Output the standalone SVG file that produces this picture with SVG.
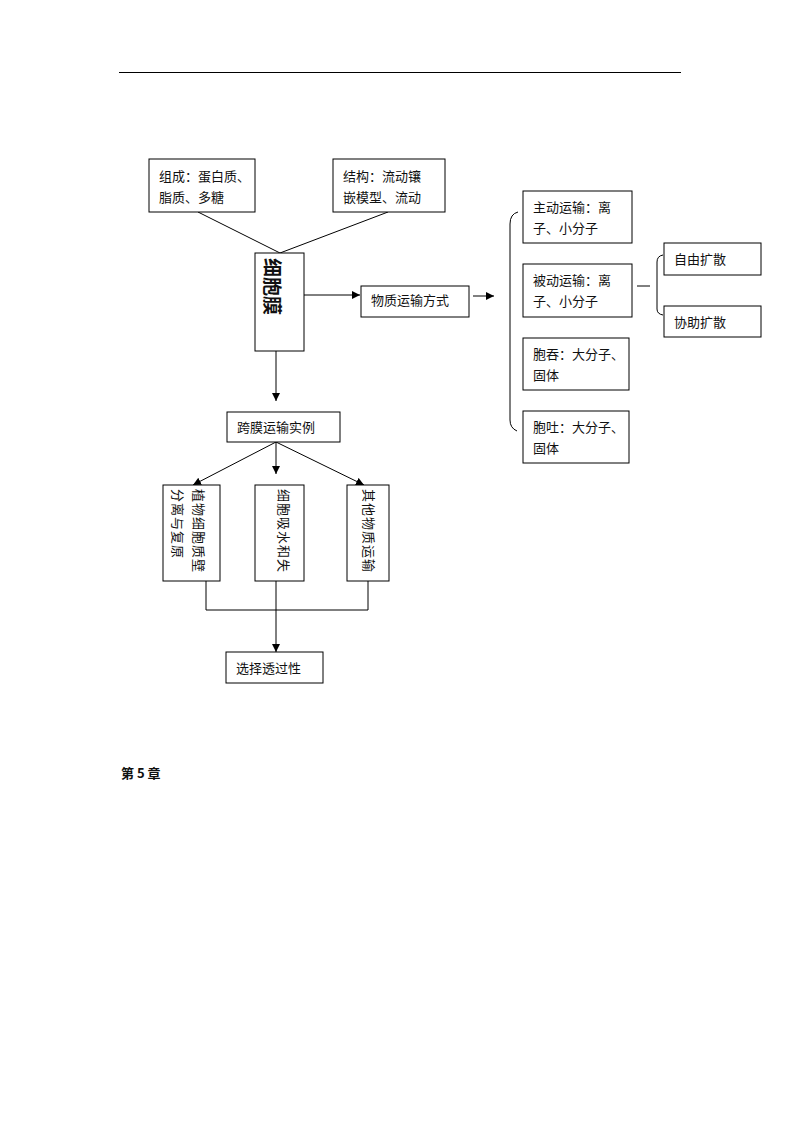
<svg xmlns="http://www.w3.org/2000/svg" width="800" height="1132" viewBox="0 0 800 1132">
<style>
.b{fill:#fff;stroke:#000;stroke-width:1}
.t{font-family:"Noto Sans CJK SC","Noto Sans CJK JP",sans-serif;font-size:13px;fill:#111}
.l{fill:none;stroke:#000;stroke-width:1}
</style>
<defs>
<marker id="a" viewBox="0 0 10 10" refX="10" refY="5" markerWidth="8" markerHeight="8" markerUnits="userSpaceOnUse" orient="auto"><path d="M0,0L10,5L0,10z" fill="#000"/></marker>
</defs>
<rect width="800" height="1132" fill="#fff"/>
<line x1="119" y1="72.5" x2="681" y2="72.5" stroke="#000" stroke-width="1"/>
<g id="connectors">
<line class="l" x1="198" y1="212" x2="280" y2="253"/>
<line class="l" x1="388" y1="212" x2="280" y2="253"/>
<line class="l" x1="304" y1="295" x2="360" y2="295" marker-end="url(#a)"/>
<line class="l" x1="473" y1="296" x2="494" y2="296" marker-end="url(#a)"/>
<path class="l" d="M518,212 Q510,214 510,224 L510,420 Q510,428 517,431"/>
<line class="l" x1="637" y1="286" x2="650" y2="286"/>
<path class="l" d="M663,255 Q657,256 657,262 L657,309 Q657,314 663,315"/>
<line class="l" x1="276" y1="351" x2="276" y2="401" marker-end="url(#a)"/>
<line class="l" x1="276" y1="442" x2="193" y2="485" marker-end="url(#a)"/>
<line class="l" x1="276" y1="442" x2="276" y2="474" marker-end="url(#a)"/>
<line class="l" x1="276" y1="442" x2="364" y2="485" marker-end="url(#a)"/>
<polyline class="l" points="206,581 206,610 368,610 368,581"/>
<line class="l" x1="276" y1="581" x2="276" y2="652" marker-end="url(#a)"/>
</g>
<g id="n-comp"><rect class="b" x="149" y="159" width="106" height="53"/><text class="t" x="159" y="181">组成：蛋白质、</text><text class="t" x="159" y="202">脂质、多糖</text></g>
<g id="n-struct"><rect class="b" x="333" y="159" width="112" height="53"/><text class="t" x="343" y="181">结构：流动镶</text><text class="t" x="343" y="202">嵌模型、流动</text></g>
<g id="n-membrane"><rect class="b" x="255" y="253" width="49" height="98"/><text class="t" transform="translate(273,258) rotate(90)" dominant-baseline="central" style="font-size:19px;font-weight:bold;letter-spacing:0">细胞膜</text></g>
<g id="n-transport"><rect class="b" x="361" y="286" width="108" height="31"/><text class="t" x="371" y="305">物质运输方式</text></g>
<g id="n-active"><rect class="b" x="523" y="191" width="109" height="52"/><text class="t" x="533" y="212">主动运输：离</text><text class="t" x="533" y="233">子、小分子</text></g>
<g id="n-passive"><rect class="b" x="523" y="264" width="109" height="53"/><text class="t" x="533" y="285">被动运输：离</text><text class="t" x="533" y="306">子、小分子</text></g>
<g id="n-free"><rect class="b" x="664" y="243" width="97" height="32"/><text class="t" x="674" y="264">自由扩散</text></g>
<g id="n-facil"><rect class="b" x="664" y="306" width="97" height="31"/><text class="t" x="674" y="327">协助扩散</text></g>
<g id="n-endo"><rect class="b" x="523" y="338" width="106" height="52"/><text class="t" x="533" y="359">胞吞：大分子、</text><text class="t" x="533" y="380">固体</text></g>
<g id="n-exo"><rect class="b" x="523" y="411" width="106" height="52"/><text class="t" x="533" y="432">胞吐：大分子、</text><text class="t" x="533" y="453">固体</text></g>
<g id="n-examples"><rect class="b" x="227" y="412" width="113" height="30"/><text class="t" x="237" y="432">跨膜运输实例</text></g>
<g id="n-plasmolysis"><rect class="b" x="163" y="485" width="57" height="96"/><text class="t" transform="translate(199,489) rotate(90)" dominant-baseline="central" style="letter-spacing:1px">植物细胞质壁</text><text class="t" transform="translate(178,489) rotate(90)" dominant-baseline="central" style="letter-spacing:1px">分离与复原</text></g>
<g id="n-water"><rect class="b" x="255" y="485" width="49" height="96"/><text class="t" transform="translate(284,489) rotate(90)" dominant-baseline="central" style="letter-spacing:1px">细胞吸水和失</text></g>
<g id="n-other"><rect class="b" x="347" y="485" width="42" height="96"/><text class="t" transform="translate(369,489) rotate(90)" dominant-baseline="central" style="letter-spacing:1px">其他物质运输</text></g>
<g id="n-selective"><rect class="b" x="226" y="652" width="97" height="31"/><text class="t" x="236" y="673">选择透过性</text></g>
<text class="t" x="121" y="778" style="font-weight:bold">第 5 章</text>
</svg>
